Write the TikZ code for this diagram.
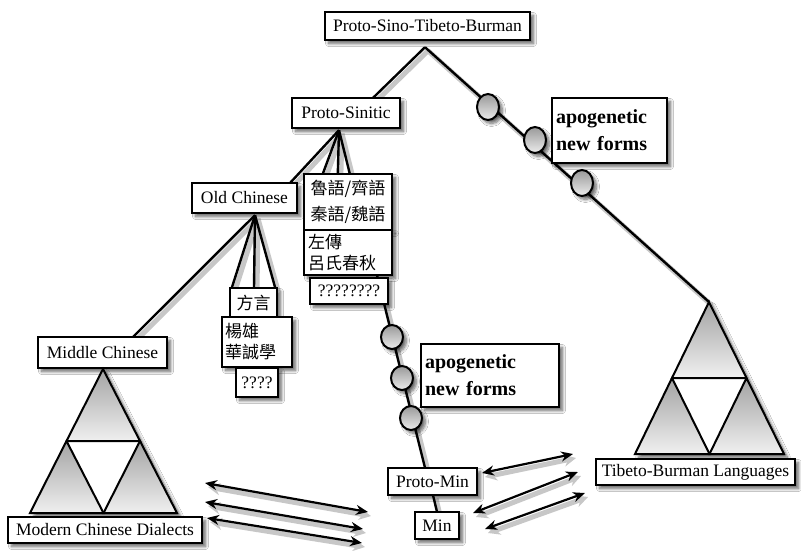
\documentclass[tikz,border=0pt]{standalone}
\usepackage{fontspec}
\setmainfont{Liberation Serif}
\newfontfamily\cjk{Noto Sans CJK TC}
\usetikzlibrary{arrows.meta,shadows.blur,calc}
\newcommand\mybranches[1]{%
\draw[#1] (top) -- (psin);
\draw[#1] (top) -- (tbA);
\draw[#1] (bps) -- (ocin);
\draw[#1] (boc) -- (mcin);
\draw[#1] (bps) -- (lu1);
\draw[#1] (bps) -- (lu2);
\draw[#1] (bps) -- (lu3);
\draw[#1] (boc) -- (fy1);
\draw[#1] (boc) -- (fy2);
\draw[#1] (boc) -- (fy3);
\draw[#1] (zuout) -- (pmin);
\draw[#1] (pmout) -- (min.north);}
\newcommand\myarrows[1]{%
\draw[#1] (l1a) -- (l1b);
\draw[#1] (l2a) -- (l2b);
\draw[#1] (l3a) -- (l3b);
\draw[#1] (r1a) -- (r1b);
\draw[#1] (r2a) -- (r2b);
\draw[#1] (r3a) -- (r3b);}
\begin{document}
\begin{tikzpicture}[x=1pt,y=-1pt,
 shd/.style={blur shadow={shadow xshift=3.5pt,shadow yshift=-3.5pt,shadow blur radius=3pt,shadow blur steps=8,shadow opacity=60}},
 bx/.style={draw,line width=1.7pt,fill=white,inner sep=0pt,shd,font=\fontsize{17.5}{21}\selectfont},
 cj/.style={font=\cjk\fontsize{17}{#1}\selectfont},
 ap/.style={font=\bfseries\fontsize{20}{27}\selectfont,align=left,inner xsep=4pt},
 br/.style={line width=2.4pt},
 brsh/.style={line width=5pt,draw=black!22},
 dot/.style={draw,line width=2pt,top color=gray!80,bottom color=gray!15,shd},
 tri/.style={draw,line width=2pt,top color=gray!72,bottom color=gray!12},
 outer/.style={fill=white,shd},
 dbl/.style={line width=2.2pt,{Stealth[length=12pt,width=10pt]}-{Stealth[length=12pt,width=10pt]}},
 dblsh/.style={line width=5pt,draw=black!22,{Stealth[length=12pt,width=12pt]}-{Stealth[length=12pt,width=12pt]}}
]
\fill[white] (0,0) rectangle (801,550);
\useasboundingbox (0,0) rectangle (801,550);

% ---------- anchor positions of the boxes ----------
\path
 node[minimum width=205pt,minimum height=28pt] (pstb) at (427.5,26) {}
 node[minimum width=108pt,minimum height=30pt] (ps) at (346,113) {}
 node[minimum width=105pt,minimum height=30pt] (oc) at (244.5,198) {}
 node[minimum width=129pt,minimum height=31pt] (mc) at (102.5,352.5) {}
 node[minimum width=89pt,minimum height=27pt] (pm) at (432.5,481.5) {}
 node[minimum width=44pt,minimum height=27pt] (min) at (437,525.5) {}
 node[minimum width=88pt,minimum height=56pt] (lu) at (348,202) {}
 node[minimum width=88pt,minimum height=45pt] (zuo) at (348,252.5) {}
 node[minimum width=47pt,minimum height=29pt] (fy) at (253.5,302.5) {};

\coordinate (top) at ($(pstb.south)+(-2.5,7)$);
\coordinate (psin) at ($(ps.north west)!0.75!(ps.north east)$);
\coordinate (tbA) at (709,302);
\coordinate (tbL) at (635,454);
\coordinate (tbR) at (784,454);
\coordinate (mcA) at (103,369);
\coordinate (mcL) at (30,513);
\coordinate (mcR) at (177,513);
\coordinate (bps) at ($(ps.south)+(-7,2)$);
\coordinate (boc) at ($(oc.south)+(10.5,2)$);
\coordinate (ocin) at ($(oc.north east)+(-7,0)$);
\coordinate (mcin) at ($(mc.north east)+(-34,0)$);
\coordinate (lu1) at ($(lu.north west)+(19,0)$);
\coordinate (lu2) at ($(lu.north west)+(34,0)$);
\coordinate (lu3) at ($(lu.north west)+(46,0)$);
\coordinate (fy1) at ($(fy.north west)+(2,0)$);
\coordinate (fy2) at ($(fy.north)+(0.5,0)$);
\coordinate (fy3) at ($(fy.north east)+(-2,0)$);
\coordinate (zuout) at ($(zuo.south)+(29,0)$);
\coordinate (pmin) at ($(pm.north)+(-7.5,0)$);
\coordinate (pmout) at ($(pm.south)+(0.5,0)$);

% ---------- branches with shadows ----------
\begin{scope}[transform canvas={shift={(3pt,-3.5pt)}}]
\mybranches{brsh}
\end{scope}
\mybranches{br}

% ---------- boxes ----------
\node[bx,minimum width=205pt,minimum height=28pt] at (pstb) {Proto-Sino-Tibeto-Burman};
\node[bx,minimum width=108pt,minimum height=30pt] at (ps) {Proto-Sinitic};
\node[bx,minimum width=105pt,minimum height=30pt] at (oc) {Old Chinese};
\node[bx,minimum width=129pt,minimum height=31pt] at (mc) {Middle Chinese};
\node[bx,minimum width=89pt,minimum height=27pt] at (pm) {Proto-Min};
\node[bx,minimum width=44pt,minimum height=27pt] at (min) {Min};

\node[bx,cj=26,align=center,minimum width=88pt,minimum height=56pt] at (lu) {魯語/齊語\\秦語/魏語};
\node[bx,cj=21,align=left,text width=80pt,inner xsep=4pt,minimum height=45pt] at (zuo) {左傳\\呂氏春秋};
\node[bx,minimum width=78pt,minimum height=26pt] (q8) at (349,291) {????????};
\node[bx,cj=21,minimum width=47pt,minimum height=29pt] at (fy) {方言};
\node[bx,cj=21,align=left,text width=64pt,inner xsep=3pt,minimum height=50pt] (yx) at (257,342) {楊雄\\華誠學};
\node[bx,minimum width=42pt,minimum height=29pt] (q4) at (257,382.5) {????};

\node[bx,ap,text width=107pt,minimum height=65pt] (apo1) at (609.5,130.5) {apogenetic\\new forms};
\node[bx,ap,text width=130pt,minimum height=63pt] (apo2) at (490,375.5) {apogenetic\\new forms};

% ---------- new-form dots ----------
\draw[dot] (488,107) ellipse [x radius=11, y radius=13];
\draw[dot] (535,140) ellipse [x radius=11, y radius=13];
\draw[dot] (582,183) ellipse [x radius=11, y radius=13];
\draw[dot] (392,337) ellipse [x radius=11, y radius=12];
\draw[dot] (402,378) ellipse [x radius=11, y radius=12];
\draw[dot] (411,418) ellipse [x radius=11, y radius=12];

% ---------- triangles ----------
\path[outer] (mcA) -- (mcL) -- (mcR) -- cycle;
\draw[tri] (mcA) -- ($(mcA)!0.5!(mcL)$) -- ($(mcA)!0.5!(mcR)$) -- cycle;
\draw[tri] ($(mcA)!0.5!(mcL)$) -- (mcL) -- ($(mcL)!0.5!(mcR)$) -- cycle;
\draw[tri] ($(mcA)!0.5!(mcR)$) -- ($(mcL)!0.5!(mcR)$) -- (mcR) -- cycle;

\path[outer] (tbA) -- (tbL) -- (tbR) -- cycle;
\draw[tri] (tbA) -- ($(tbA)!0.5!(tbL)$) -- ($(tbA)!0.5!(tbR)$) -- cycle;
\draw[tri] ($(tbA)!0.5!(tbL)$) -- (tbL) -- ($(tbL)!0.5!(tbR)$) -- cycle;
\draw[tri] ($(tbA)!0.5!(tbR)$) -- ($(tbL)!0.5!(tbR)$) -- (tbR) -- cycle;

\node[bx,minimum width=194pt,minimum height=26pt] (mcd) at (105,530) {Modern Chinese Dialects};
\node[bx,minimum width=199pt,minimum height=26pt] (tbl) at (695.5,472) {Tibeto-Burman Languages};

% ---------- contact arrows ----------
\coordinate (l1a) at (205,483); \coordinate (l1b) at (368,512);
\coordinate (l2a) at (205,502); \coordinate (l2b) at (363,529);
\coordinate (l3a) at (207,518); \coordinate (l3b) at (362,543);
\coordinate (r1a) at (482,473); \coordinate (r1b) at (573,454);
\coordinate (r2a) at (473,513); \coordinate (r2b) at (578,472);
\coordinate (r3a) at (485,529); \coordinate (r3b) at (585,493);
\begin{scope}[transform canvas={shift={(3pt,-4pt)}}]
\myarrows{dblsh}
\end{scope}
\myarrows{dbl}
\end{tikzpicture}
\end{document}
